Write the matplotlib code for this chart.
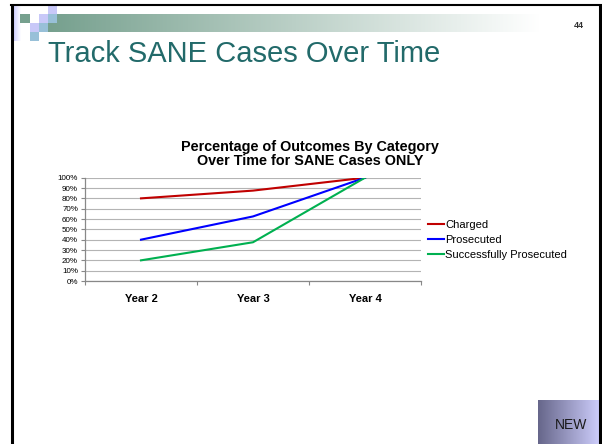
import numpy as np
import matplotlib.pyplot as plt
from matplotlib.ticker import FixedLocator, NullFormatter

plt.rcParams['font.family'] = ['Liberation Sans', 'DejaVu Sans']

# outcome percentages per year
years = ["Year 2", "Year 3", "Year 4"]
charged = [80, 87.5, 100]
prosecuted = [40, 62.5, 100]
success = [20, 37.5, 100]
series_names = ["Charged", "Prosecuted", "Successfully Prosecuted"]
series_colors = ["#c00000", "#0000ff", "#00b050"]
pct_ticks = list(range(0, 101, 10))

W, H = 602, 444
fig = plt.figure(figsize=(W / 100, H / 100), dpi=100)

# slide decoration layer, pixel coords
deco = fig.add_axes([0, 0, 1, 1])
deco.axis('off')

# header bar fading from green-grey to white
grad = np.linspace(0, 1, 256)
c0 = np.array([0x76, 0xa0, 0x8e]) / 255.
bar = c0[None, :] * (1 - grad[:, None]) + grad[:, None]
deco.imshow(bar[None, :, :], extent=(48, 540, 32, 14), aspect='auto', zorder=1)

# left lavender strip
lav = np.array([0xd0, 0xd0, 0xff]) / 255.
strip = lav[None, :] * (1 - grad[:, None]) + grad[:, None]
deco.imshow(strip[None, :, :], extent=(14, 21, 41, 6), aspect='auto', zorder=2)

# NEW badge
c1 = np.array([0x66, 0x66, 0x8a]) / 255.
c2 = np.array([0xcc, 0xcc, 0xfa]) / 255.
badge = c1[None, :] * (1 - grad[:, None]) + c2[None, :] * grad[:, None]
deco.imshow(badge[None, :, :], extent=(538, 599, H, 400), aspect='auto', zorder=2)
deco.text(571, 425, "NEW", fontsize=10, color='#1a1a1a', ha='center', va='center', zorder=4)

# little squares in the corner
sq = [
    (20, 14, "#76a08e"),
    (48, 6, "#c8c8f8"),
    (39, 14, "#c8c8f8"),
    (48, 14, "#98c0d8"),
    (30, 23, "#c8c8f8"),
    (39, 23, "#98c0d8"),
    (30, 32, "#98c0d8"),
]
for x0, y0, col in sq:
    w = 10 if x0 == 20 else 9
    deco.add_patch(plt.Rectangle((x0, y0), w, 9, color=col, lw=0, zorder=3))

# slide frame
deco.plot([12, 12], [5, H], color='black', lw=2.2, zorder=5, solid_capstyle='butt')
deco.plot([600, 600], [5, H], color='black', lw=2.2, zorder=5, solid_capstyle='butt')
deco.plot([11, 601], [5.5, 5.5], color='black', lw=1.5, zorder=5)

deco.text(579, 25, "44", fontsize=6.5, fontweight='bold', color='#303030',
          ha='center', va='center', zorder=4)
deco.text(48, 62, "Track SANE Cases Over Time", fontsize=21, color='#226a6a',
          ha='left', va='baseline', zorder=4)

# imshow resets limits, so set them last
deco.set_xlim(0, W)
deco.set_ylim(H, 0)

# chart
ax = fig.add_axes([85 / W, 1 - 281 / H, 336 / W, 103.3 / H])
ax.patch.set_alpha(0)
x = np.arange(len(years))
for vals, name, col in zip([charged, prosecuted, success], series_names, series_colors):
    ax.plot(x, vals, color=col, lw=1.5, label=name, zorder=3)

ax.set_xlim(-0.5, len(years) - 0.5)
ax.set_ylim(0, 100)
ax.set_yticks(pct_ticks)
ax.set_yticklabels([f"{v}%" for v in pct_ticks], fontsize=5.8)
ax.yaxis.grid(True, color='#b4b4b4', lw=0.8)
ax.set_axisbelow(True)

ax.xaxis.set_major_locator(FixedLocator(np.arange(-0.5, len(years), 1.0)))
ax.xaxis.set_major_formatter(NullFormatter())
ax.xaxis.set_minor_locator(FixedLocator(x))
ax.set_xticklabels(years, minor=True, fontsize=8, fontweight='bold')
ax.tick_params(axis='x', which='minor', length=0, pad=9)
ax.tick_params(axis='x', which='major', length=3, color='#888888')
ax.tick_params(axis='y', length=3, color='#888888', pad=2)

for s in ['top', 'right']:
    ax.spines[s].set_visible(False)
for s in ['left', 'bottom']:
    ax.spines[s].set_color('#888888')
    ax.spines[s].set_linewidth(0.9)

ax.set_title("Percentage of Outcomes By Category\nOver Time for SANE Cases ONLY",
             fontsize=10.4, fontweight='bold', pad=9, x=(310 - 85) / 336,
             linespacing=1.0)

fig.legend(loc='center left', bbox_to_anchor=(428 / W, 1 - 240 / H), frameon=False,
           fontsize=8, handlelength=1.45, handletextpad=0.1, borderpad=0,
           borderaxespad=0, labelspacing=0.45)

fig.savefig("out.png", dpi=100)
